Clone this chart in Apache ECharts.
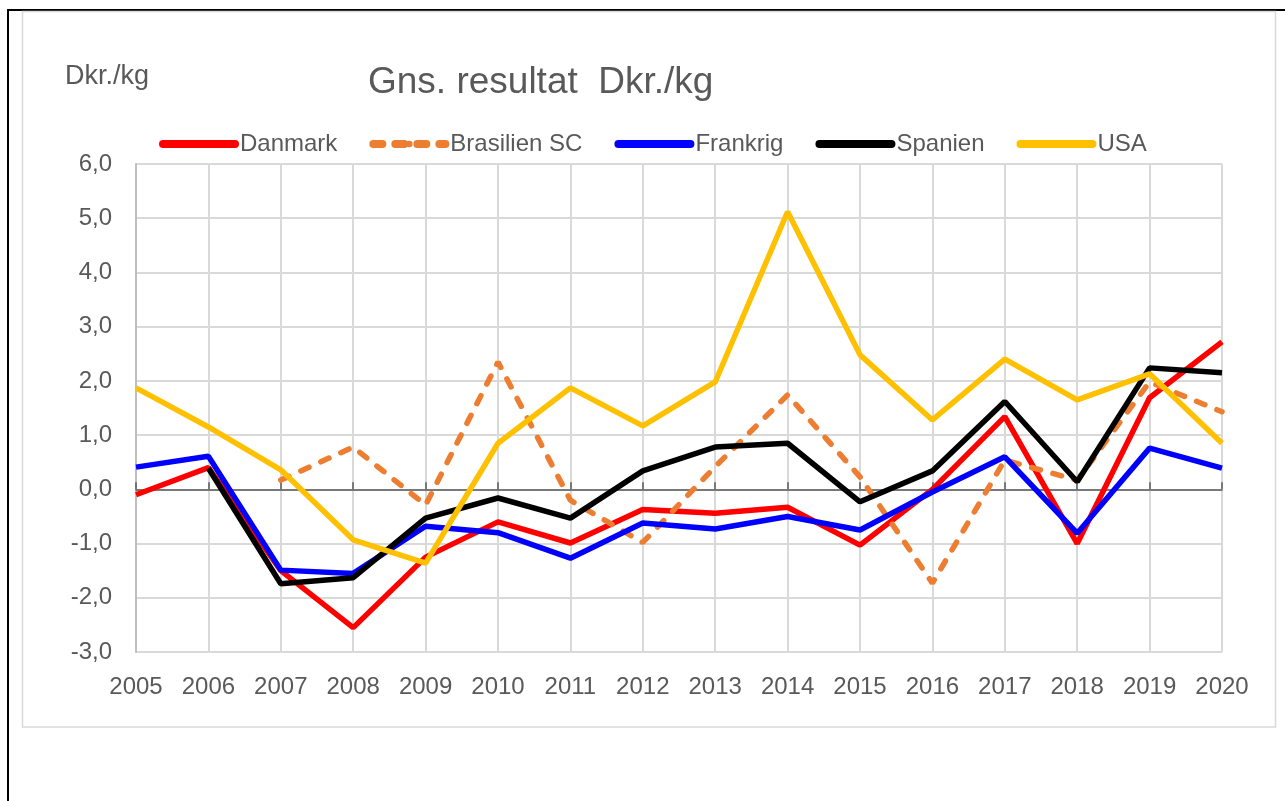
<!DOCTYPE html>
<html>
<head>
<meta charset="utf-8">
<script src="https://cdn.jsdelivr.net/npm/echarts@6/dist/echarts.min.js"></script>
<style>
  html, body { margin: 0; padding: 0; background: #fff; }
  #chart { width: 1285px; height: 801px; }
</style>
</head>
<body>
<div id="chart"></div>
<script>
// år og serier (Dkr./kg)
var years = ['2005','2006','2007','2008','2009','2010','2011','2012','2013','2014','2015','2016','2017','2018','2019','2020'];
var danmark   = [-0.1, 0.4, -1.5, -2.55, -1.25, -0.6, -0.99, -0.37, -0.44, -0.33, -1.03, 0.0, 1.34, -1.0, 1.69, 2.72];
var brasilien = [null, null, 0.17, 0.78, -0.29, 2.35, -0.2, -0.98, 0.42, 1.74, 0.23, -1.73, 0.54, 0.17, 1.98, 1.43];
var frankrig  = [0.41, 0.61, -1.49, -1.55, -0.68, -0.8, -1.27, -0.62, -0.73, -0.5, -0.75, -0.05, 0.6, -0.81, 0.76, 0.39];
var spanien   = [null, 0.39, -1.74, -1.63, -0.53, -0.16, -0.53, 0.34, 0.78, 0.85, -0.23, 0.34, 1.62, 0.14, 2.24, 2.15];
var usa       = [1.87, 1.15, 0.36, -0.93, -1.36, 0.85, 1.87, 1.17, 1.98, 5.12, 2.48, 1.28, 2.4, 1.65, 2.13, 0.85];

var txt = '#595959';
var font = 'Liberation Sans, Arial, sans-serif';

function line(name, data, color, dashed) {
  return {
    name: name,
    type: 'line',
    data: data,
    symbol: 'none',
    connectNulls: false,
    lineStyle: dashed
      ? { color: color, width: 5.5, type: [9, 13], cap: 'round' }
      : { color: color, width: 5.5, type: 'solid' },
    itemStyle: { color: color }
  };
}

var myChart = echarts.init(document.getElementById('chart'));
var option = {
  backgroundColor: '#fff',
  animation: false,
  textStyle: { fontFamily: font, color: txt },
  graphic: [
    { type: 'rect', shape: { x: 8, y: 10, width: 1400, height: 1000 }, style: { fill: 'none', stroke: '#000', lineWidth: 2 }, silent: true },
    { type: 'rect', shape: { x: 22.5, y: 11.5, width: 1253, height: 715.5 }, style: { fill: 'none', stroke: '#d9d9d9', lineWidth: 1.5 }, silent: true }
  ],
  title: [
    { text: 'Gns. resultat  Dkr./kg', left: 363, top: 59, textStyle: { fontSize: 37, fontWeight: 'normal', color: txt, fontFamily: font } },
    { text: 'Dkr./kg', left: 60, top: 58, textStyle: { fontSize: 27, fontWeight: 'normal', color: txt, fontFamily: font } }
  ],
  legend: {
    left: 154,
    top: 127,
    itemWidth: 72,
    itemHeight: 8,
    itemGap: 32,
    textStyle: { fontSize: 24, color: txt, fontFamily: font },
    data: ['Danmark', 'Brasilien SC', 'Frankrig', 'Spanien', 'USA'],
    lineStyle: { width: 8, cap: 'round' }
  },
  grid: { left: 136, right: 63, top: 164, bottom: 149, outerBoundsMode: 'none', containLabel: false },
  xAxis: {
    type: 'category',
    data: years,
    boundaryGap: false,
    axisLine: { show: true, onZero: true, lineStyle: { color: '#595959', width: 1.5 } },
    axisTick: { show: true, inside: true, length: 7, lineStyle: { color: '#595959', width: 1.5 } },
    axisLabel: { fontSize: 24, color: txt, margin: 23, fontFamily: font },
    splitLine: { show: true, lineStyle: { color: '#d9d9d9', width: 2 } }
  },
  yAxis: {
    type: 'value',
    min: -3,
    max: 6,
    interval: 1,
    axisLine: { show: true, lineStyle: { color: '#bfbfbf', width: 2 } },
    axisTick: { show: false },
    axisLabel: {
      fontSize: 24, color: txt, margin: 24, fontFamily: font,
      formatter: function (v) { return v.toFixed(1).replace('.', ','); }
    },
    splitLine: { show: true, lineStyle: { color: '#d9d9d9', width: 2 } }
  },
  series: [
    line('Danmark', danmark, '#ff0000', false),
    line('Brasilien SC', brasilien, '#ed7d31', true),
    line('Frankrig', frankrig, '#0000ff', false),
    line('Spanien', spanien, '#000000', false),
    line('USA', usa, '#ffc000', false)
  ]
};
myChart.setOption(option);
</script>
</body>
</html>
